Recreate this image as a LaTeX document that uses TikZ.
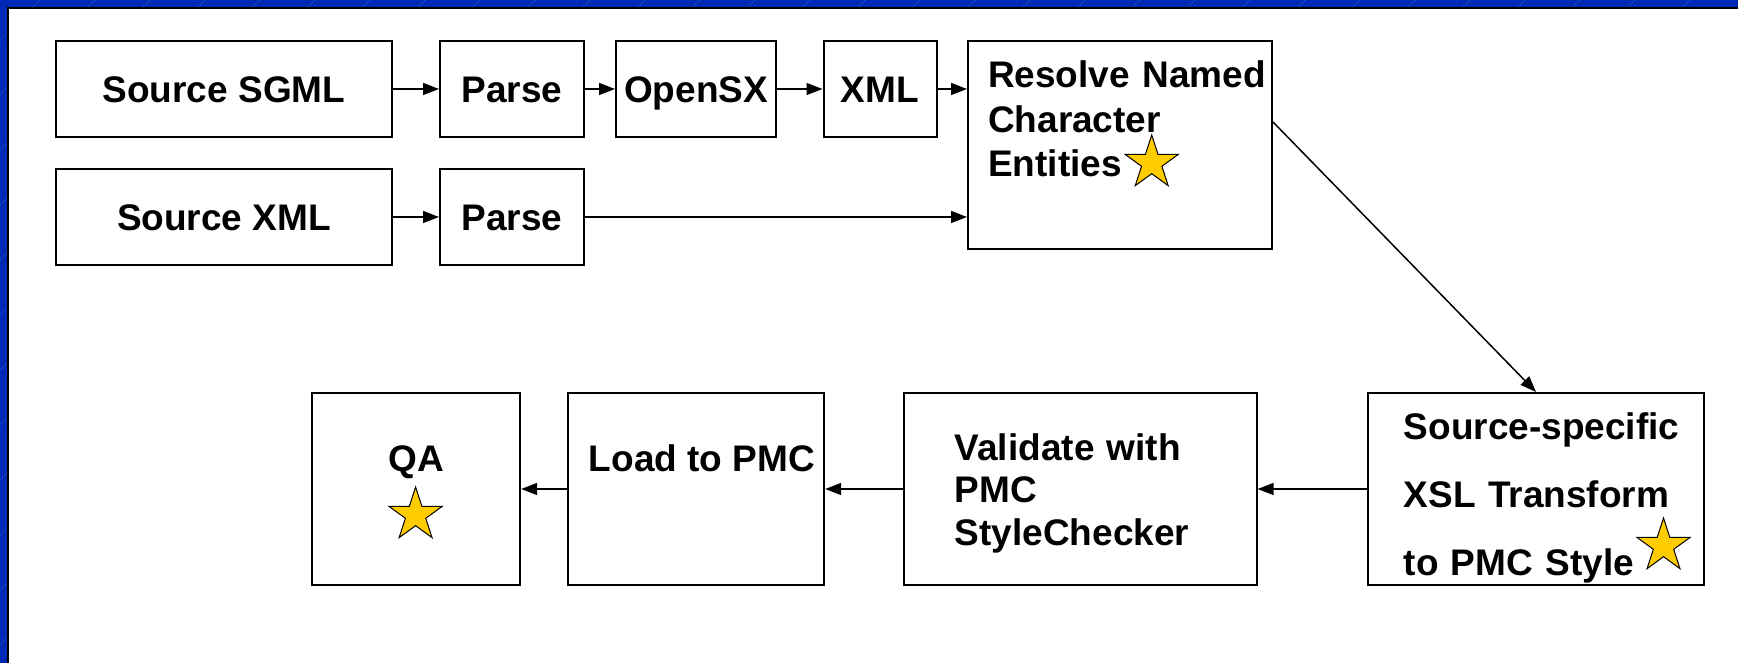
\documentclass[tikz,border=0pt]{standalone}
\usepackage{fontspec}
\setmainfont{Liberation Sans}
\usetikzlibrary{arrows.meta,shapes.geometric}
\definecolor{slideblue}{RGB}{0,41,181}
\definecolor{stripe}{RGB}{70,105,215}
\definecolor{starfill}{RGB}{255,204,0}
\tikzset{
  blk/.style={draw,line width=1pt,inner sep=0pt,text height=13.3pt,text depth=0pt,
    font=\bfseries\fontsize{18.5}{22}\selectfont},
  lbl/.style={inner sep=0pt,align=left,font=\bfseries\fontsize{18.5}{22.25}\selectfont},
  flow/.style={-{Triangle[length=8pt,width=6pt]},line width=0.75pt},
  gold/.style={star,star points=5,star point ratio=2.618,minimum size=28pt,inner sep=0pt,
    draw,fill=starfill,line width=0.5pt}
}
\begin{document}
\begin{tikzpicture}[x=0.5pt,y=-0.5pt]
\useasboundingbox (0,0) rectangle (1738,663);
\begin{scope}
\clip (0,0) rectangle (1738,663);
\fill[slideblue] (0,0) rectangle (1738,663);
\foreach \k in {40,95,...,2500}
{
\draw[stripe,line width=0.4pt,densely dotted] (\k,0) -- ++(-700,700);
}
\fill[white] (8,9) rectangle (1738,663);
\draw[line width=1pt] (7.5,663) -- (7.5,8.5) -- (1738,8.5);
\end{scope}

\foreach \nm/\cx/\cy/\bw/\txt in {sgml/224/89/168/Source SGML,parsea/512/89/72/Parse,opensx/696/89/80/OpenSX,xml/880/89/56.5/XML,sxml/224/217/168/Source XML,parseb/512/217/72/Parse}
{
\node[blk,minimum width=\bw pt,minimum height=48pt] (\nm) at (\cx,\cy) {\txt};
}

\node[blk,minimum width=152pt,minimum height=104pt] (resolve) at (1120,145) {};
\node[blk,minimum width=168pt,minimum height=96pt] (xsl) at (1536,489) {};
\node[blk,minimum width=176.3pt,minimum height=96pt] (validate) at (1080.3,489) {};
\node[blk,minimum width=128.2pt,minimum height=96pt] (load) at (696,489) {};
\node[blk,minimum width=104.2pt,minimum height=96pt] (qa) at (416,489) {};

\node[lbl,text width=150pt,anchor=base west] (resolvetxt) at (987.7,87.7) {Resolve Named\\Character\\Entities};
\node[lbl,text width=160pt,anchor=base west,font=\bfseries\fontsize{18.5}{34}\selectfont] (xsltxt) at (1403.3,439.3) {Source-specific\\XSL Transform\\to PMC Style};
\node[lbl,text width=160pt,anchor=base west,font=\bfseries\fontsize{18.5}{21.25}\selectfont] (validatetxt) at (954.3,460) {Validate with\\PMC\\StyleChecker};
\node[lbl,anchor=base west] (loadtxt) at (588.5,471.7) {Load to PMC};
\node[lbl,anchor=base] (qatxt) at (416,471.7) {QA};

\node[gold] (star1) at (1151.7,163) {};
\node[gold] (star2) at (1663.5,546) {};
\node[gold] (star3) at (415.6,515) {};

\coordinate (rout) at (resolve.east |- 0,122);

\draw[flow] (sgml) -- (parsea);
\draw[flow] (parsea) -- (opensx);
\draw[flow] (opensx) -- (xml);
\draw[flow] (xml.east) -- (xml.east -| resolve.west);
\draw[flow] (sxml) -- (parseb);
\draw[flow] (parseb.east) -- (parseb.east -| resolve.west);
\draw[flow] (rout) -- (xsl.north);
\draw[flow] (xsl) -- (validate);
\draw[flow] (validate) -- (load);
\draw[flow] (load) -- (qa);
\end{tikzpicture}
\end{document}
